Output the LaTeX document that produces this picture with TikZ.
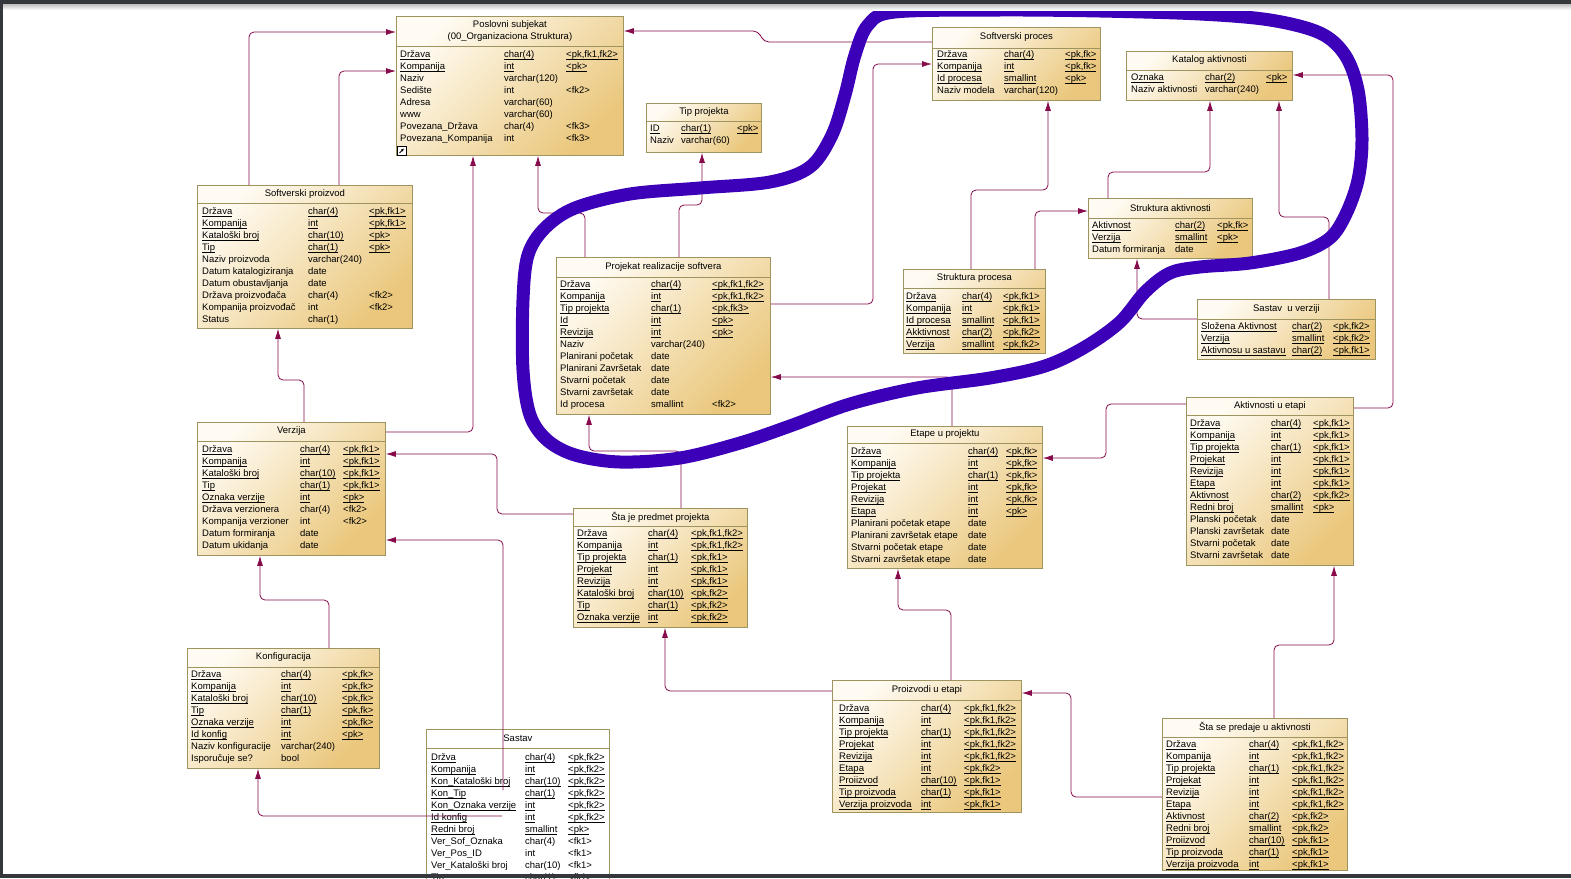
\documentclass[tikz,border=0pt]{standalone}
\usepackage{fontspec}
\setmainfont{Liberation Sans}
\usepackage{array}
\usetikzlibrary{positioning, arrows.meta}

\definecolor{entlight}{RGB}{255,251,242}
\definecolor{entdark}{RGB}{234,199,124}
\definecolor{entedge}{RGB}{158,148,96}
\definecolor{fkred}{RGB}{135,10,75}
\definecolor{blobblue}{RGB}{60,0,185}
\definecolor{framegray}{RGB}{52,56,60}

\newcommand{\entfont}{\fontsize{9.5}{12}\selectfont}
\newcommand{\ulx}[1]{\setbox0=\hbox{#1}\rlap{\rule[-1.7pt]{\wd0}{0.6pt}}\box0}
\newcommand{\pkr}[3]{\ulx{#1} & \ulx{#2} & \ulx{#3}\\}
\newcommand{\atr}[3]{#1 & #2 & #3\\}

\tikzset{
  entity/.style={draw=entedge, line width=0.8pt, anchor=north west, inner sep=0pt,
    top color=entlight, bottom color=entdark, shading angle=45},
  entplain/.style={draw=entedge, line width=0.8pt, anchor=north west, inner sep=0pt, fill=white},
  enttitle/.style={font=\entfont, inner sep=0pt, align=center},
  entbody/.style={font=\entfont, inner sep=0pt, anchor=north west},
  sepline/.style={draw=entedge, line width=0.8pt},
  fk/.style={draw=fkred, line width=0.8pt, rounded corners=5pt, -{Latex[length=10pt,width=6pt]}},
  blob/.style={draw=blobblue, line width=13pt, line join=round},
}

\begin{document}
\begin{tikzpicture}[x=1pt, y=-1pt]
  \clip (0,0) rectangle (1571,878);
  \fill[white] (0,0) rectangle (1571,878);

  % Poslovni subjekat
  \node[entity, minimum width=227, minimum height=139] (posl) at (396,16) {};
  \draw[sepline] ([yshift=-30]posl.north west) -- ([yshift=-30]posl.north east);
  \node[enttitle] at ([yshift=-15]posl.north) {Poslovni subjekat\\(00\_Organizaciona Struktura)};
  \node[entbody] at ([xshift=4,yshift=-33]posl.north west) {\begin{tabular}{@{}w{l}{104pt}@{}w{l}{62pt}@{}l@{}}
    \pkr{Država}{char(4)}{<pk,fk1,fk2>}
    \pkr{Kompanija}{int}{<pk>}
    \atr{Naziv}{varchar(120)}{}
    \atr{Sedište}{int}{<fk2>}
    \atr{Adresa}{varchar(60)}{}
    \atr{www}{varchar(60)}{}
    \atr{Povezana\_Država}{char(4)}{<fk3>}
    \atr{Povezana\_Kompanija}{int}{<fk3>}
  \end{tabular}};
  \draw[fill=white, line width=0.6pt] (397,146) rectangle (406,155);
  \draw[line width=0.9pt, -{Latex[length=3pt,width=3pt]}] (399.5,153) -- (404,148.5);

  % Softverski proizvod
  \node[entity, minimum width=215, minimum height=143] (sproiz) at (197,185) {};
  \draw[sepline] ([yshift=-18]sproiz.north west) -- ([yshift=-18]sproiz.north east);
  \node[enttitle] at ([yshift=-9]sproiz.north) {Softverski proizvod};
  \node[entbody] at ([xshift=5,yshift=-21]sproiz.north west) {\begin{tabular}{@{}w{l}{106pt}@{}w{l}{61pt}@{}l@{}}
    \pkr{Država}{char(4)}{<pk,fk1>}
    \pkr{Kompanija}{int}{<pk,fk1>}
    \pkr{Kataloški broj}{char(10)}{<pk>}
    \pkr{Tip}{char(1)}{<pk>}
    \atr{Naziv proizvoda}{varchar(240)}{}
    \atr{Datum katalogiziranja}{date}{}
    \atr{Datum obustavljanja}{date}{}
    \atr{Država proizvođača}{char(4)}{<fk2>}
    \atr{Kompanija proizvođač}{int}{<fk2>}
    \atr{Status}{char(1)}{}
  \end{tabular}};

  % Tip projekta
  \node[entity, minimum width=115, minimum height=49] (tipp) at (646,103) {};
  \draw[sepline] ([yshift=-18]tipp.north west) -- ([yshift=-18]tipp.north east);
  \node[enttitle] at ([yshift=-9]tipp.north) {Tip projekta};
  \node[entbody] at ([xshift=4,yshift=-20]tipp.north west) {\begin{tabular}{@{}w{l}{31pt}@{}w{l}{56pt}@{}l@{}}
    \pkr{ID}{char(1)}{<pk>}
    \atr{Naziv}{varchar(60)}{}
  \end{tabular}};

  % Softverski proces
  \node[entity, minimum width=168, minimum height=73] (sproc) at (932,27) {};
  \draw[sepline] ([yshift=-21]sproc.north west) -- ([yshift=-21]sproc.north east);
  \node[enttitle] at ([yshift=-10.5]sproc.north) {Softverski proces};
  \node[entbody] at ([xshift=5,yshift=-22]sproc.north west) {\begin{tabular}{@{}w{l}{67pt}@{}w{l}{61pt}@{}l@{}}
    \pkr{Država}{char(4)}{<pk,fk>}
    \pkr{Kompanija}{int}{<pk,fk>}
    \pkr{Id procesa}{smallint}{<pk>}
    \atr{Naziv modela}{varchar(120)}{}
  \end{tabular}};

  % Katalog aktivnosti
  \node[entity, minimum width=166, minimum height=49] (kat) at (1126,51) {};
  \draw[sepline] ([yshift=-19]kat.north west) -- ([yshift=-19]kat.north east);
  \node[enttitle] at ([yshift=-9.5]kat.north) {Katalog aktivnosti};
  \node[entbody] at ([xshift=5,yshift=-21]kat.north west) {\begin{tabular}{@{}w{l}{74pt}@{}w{l}{61pt}@{}l@{}}
    \pkr{Oznaka}{char(2)}{<pk>}
    \atr{Naziv aktivnosti}{varchar(240)}{}
  \end{tabular}};

  % Projekat realizacije softvera
  \node[entity, minimum width=214, minimum height=157] (proj) at (556,257) {};
  \draw[sepline] ([yshift=-20]proj.north west) -- ([yshift=-20]proj.north east);
  \node[enttitle] at ([yshift=-10]proj.north) {Projekat realizacije softvera};
  \node[entbody] at ([xshift=4,yshift=-22]proj.north west) {\begin{tabular}{@{}w{l}{91pt}@{}w{l}{61pt}@{}l@{}}
    \pkr{Država}{char(4)}{<pk,fk1,fk2>}
    \pkr{Kompanija}{int}{<pk,fk1,fk2>}
    \pkr{Tip projekta}{char(1)}{<pk,fk3>}
    \pkr{Id}{int}{<pk>}
    \pkr{Revizija}{int}{<pk>}
    \atr{Naziv}{varchar(240)}{}
    \atr{Planirani početak}{date}{}
    \atr{Planirani Završetak}{date}{}
    \atr{Stvarni početak}{date}{}
    \atr{Stvarni završetak}{date}{}
    \atr{Id procesa}{smallint}{<fk2>}
  \end{tabular}};

  % Struktura procesa
  \node[entity, minimum width=142, minimum height=84] (strp) at (903,269) {};
  \draw[sepline] ([yshift=-19]strp.north west) -- ([yshift=-19]strp.north east);
  \node[enttitle] at ([yshift=-9.5]strp.north) {Struktura procesa};
  \node[entbody] at ([xshift=3,yshift=-22]strp.north west) {\begin{tabular}{@{}w{l}{56pt}@{}w{l}{41pt}@{}l@{}}
    \pkr{Država}{char(4)}{<pk,fk1>}
    \pkr{Kompanija}{int}{<pk,fk1>}
    \pkr{Id procesa}{smallint}{<pk,fk1>}
    \pkr{Akktivnost}{char(2)}{<pk,fk2>}
    \pkr{Verzija}{smallint}{<pk,fk2>}
  \end{tabular}};

  % Struktura aktivnosti
  \node[entity, minimum width=164, minimum height=60] (stra) at (1088,198) {};
  \draw[sepline] ([yshift=-20]stra.north west) -- ([yshift=-20]stra.north east);
  \node[enttitle] at ([yshift=-10]stra.north) {Struktura aktivnosti};
  \node[entbody] at ([xshift=4,yshift=-22]stra.north west) {\begin{tabular}{@{}w{l}{83pt}@{}w{l}{42pt}@{}l@{}}
    \pkr{Aktivnost}{char(2)}{<pk,fk>}
    \pkr{Verzija}{smallint}{<pk>}
    \atr{Datum formiranja}{date}{}
  \end{tabular}};

  % Sastav u verziji
  \node[entity, minimum width=178, minimum height=60] (sastv) at (1197,299) {};
  \draw[sepline] ([yshift=-20]sastv.north west) -- ([yshift=-20]sastv.north east);
  \node[enttitle] at ([yshift=-10]sastv.north) {Sastav\ \ u verziji};
  \node[entbody] at ([xshift=4,yshift=-22]sastv.north west) {\begin{tabular}{@{}w{l}{91pt}@{}w{l}{41pt}@{}l@{}}
    \pkr{Složena Aktivnost}{char(2)}{<pk,fk2>}
    \pkr{Verzija}{smallint}{<pk,fk2>}
    \pkr{Aktivnosu u sastavu}{char(2)}{<pk,fk1>}
  \end{tabular}};

  % Verzija
  \node[entity, minimum width=188, minimum height=133] (verz) at (197,422) {};
  \draw[sepline] ([yshift=-19]verz.north west) -- ([yshift=-19]verz.north east);
  \node[enttitle] at ([yshift=-9.5]verz.north) {Verzija};
  \node[entbody] at ([xshift=5,yshift=-22]verz.north west) {\begin{tabular}{@{}w{l}{98pt}@{}w{l}{43pt}@{}l@{}}
    \pkr{Država}{char(4)}{<pk,fk1>}
    \pkr{Kompanija}{int}{<pk,fk1>}
    \pkr{Kataloški broj}{char(10)}{<pk,fk1>}
    \pkr{Tip}{char(1)}{<pk,fk1>}
    \pkr{Oznaka verzije}{int}{<pk>}
    \atr{Država verzionera}{char(4)}{<fk2>}
    \atr{Kompanija verzioner}{int}{<fk2>}
    \atr{Datum formiranja}{date}{}
    \atr{Datum ukidanja}{date}{}
  \end{tabular}};

  % Sta je predmet projekta
  \node[entity, minimum width=174, minimum height=119] (sjp) at (573,508) {};
  \draw[sepline] ([yshift=-18]sjp.north west) -- ([yshift=-18]sjp.north east);
  \node[enttitle] at ([yshift=-9]sjp.north) {Šta je predmet projekta};
  \node[entbody] at ([xshift=4,yshift=-20]sjp.north west) {\begin{tabular}{@{}w{l}{71pt}@{}w{l}{43pt}@{}l@{}}
    \pkr{Država}{char(4)}{<pk,fk1,fk2>}
    \pkr{Kompanija}{int}{<pk,fk1,fk2>}
    \pkr{Tip projekta}{char(1)}{<pk,fk1>}
    \pkr{Projekat}{int}{<pk,fk1>}
    \pkr{Revizija}{int}{<pk,fk1>}
    \pkr{Kataloški broj}{char(10)}{<pk,fk2>}
    \pkr{Tip}{char(1)}{<pk,fk2>}
    \pkr{Oznaka verzije}{int}{<pk,fk2>}
  \end{tabular}};

  % Etape u projektu
  \node[entity, minimum width=195, minimum height=142] (etape) at (847,426) {};
  \draw[sepline] ([yshift=-17]etape.north west) -- ([yshift=-17]etape.north east);
  \node[enttitle] at ([yshift=-8.5]etape.north) {Etape u projektu};
  \node[entbody] at ([xshift=4,yshift=-20]etape.north west) {\begin{tabular}{@{}w{l}{117pt}@{}w{l}{38pt}@{}l@{}}
    \pkr{Država}{char(4)}{<pk,fk>}
    \pkr{Kompanija}{int}{<pk,fk>}
    \pkr{Tip projekta}{char(1)}{<pk,fk>}
    \pkr{Projekat}{int}{<pk,fk>}
    \pkr{Revizija}{int}{<pk,fk>}
    \pkr{Etapa}{int}{<pk>}
    \atr{Planirani početak etape}{date}{}
    \atr{Planirani završetak etape}{date}{}
    \atr{Stvarni početak etape}{date}{}
    \atr{Stvarni završetak etape}{date}{}
  \end{tabular}};

  % Aktivnosti u etapi
  \node[entity, minimum width=167, minimum height=168] (akt) at (1186,397) {};
  \draw[sepline] ([yshift=-18]akt.north west) -- ([yshift=-18]akt.north east);
  \node[enttitle] at ([yshift=-9]akt.north) {Aktivnosti u etapi};
  \node[entbody] at ([xshift=4,yshift=-21]akt.north west) {\begin{tabular}{@{}w{l}{81pt}@{}w{l}{42pt}@{}l@{}}
    \pkr{Država}{char(4)}{<pk,fk1>}
    \pkr{Kompanija}{int}{<pk,fk1>}
    \pkr{Tip projekta}{char(1)}{<pk,fk1>}
    \pkr{Projekat}{int}{<pk,fk1>}
    \pkr{Revizija}{int}{<pk,fk1>}
    \pkr{Etapa}{int}{<pk,fk1>}
    \pkr{Aktivnost}{char(2)}{<pk,fk2>}
    \pkr{Redni broj}{smallint}{<pk>}
    \atr{Planski početak}{date}{}
    \atr{Planski završetak}{date}{}
    \atr{Stvarni početak}{date}{}
    \atr{Stvarni završetak}{date}{}
  \end{tabular}};

  % Konfiguracija
  \node[entity, minimum width=192, minimum height=120] (konf) at (187,648) {};
  \draw[sepline] ([yshift=-19]konf.north west) -- ([yshift=-19]konf.north east);
  \node[enttitle] at ([yshift=-9.5]konf.north) {Konfiguracija};
  \node[entbody] at ([xshift=4,yshift=-21]konf.north west) {\begin{tabular}{@{}w{l}{90pt}@{}w{l}{61pt}@{}l@{}}
    \pkr{Država}{char(4)}{<pk,fk>}
    \pkr{Kompanija}{int}{<pk,fk>}
    \pkr{Kataloški broj}{char(10)}{<pk,fk>}
    \pkr{Tip}{char(1)}{<pk,fk>}
    \pkr{Oznaka verzije}{int}{<pk,fk>}
    \pkr{Id konfig}{int}{<pk>}
    \atr{Naziv konfiguracije}{varchar(240)}{}
    \atr{Isporučuje se?}{bool}{}
  \end{tabular}};

  % Sastav
  \node[entplain, minimum width=183, minimum height=160] (sast) at (426,729) {};
  \draw[sepline] ([yshift=-19]sast.north west) -- ([yshift=-19]sast.north east);
  \node[enttitle] at ([yshift=-9.5]sast.north) {Sastav};
  \node[entbody] at ([xshift=5,yshift=-23]sast.north west) {\begin{tabular}{@{}w{l}{94pt}@{}w{l}{43pt}@{}l@{}}
    \pkr{Držva}{char(4)}{<pk,fk2>}
    \pkr{Kompanija}{int}{<pk,fk2>}
    \pkr{Kon\_Kataloški broj}{char(10)}{<pk,fk2>}
    \pkr{Kon\_Tip}{char(1)}{<pk,fk2>}
    \pkr{Kon\_Oznaka verzije}{int}{<pk,fk2>}
    \pkr{Id konfig}{int}{<pk,fk2>}
    \pkr{Redni broj}{smallint}{<pk>}
    \atr{Ver\_Sof\_Oznaka}{char(4)}{<fk1>}
    \atr{Ver\_Pos\_ID}{int}{<fk1>}
    \atr{Ver\_Kataloški broj}{char(10)}{<fk1>}
    \atr{Tip}{char(1)}{<fk1>}
  \end{tabular}};

  % Proizvodi u etapi
  \node[entity, minimum width=189, minimum height=132] (proizv) at (832,680) {};
  \draw[sepline] ([yshift=-20]proizv.north west) -- ([yshift=-20]proizv.north east);
  \node[enttitle] at ([yshift=-10]proizv.north) {Proizvodi u etapi};
  \node[entbody] at ([xshift=7,yshift=-23]proizv.north west) {\begin{tabular}{@{}w{l}{82pt}@{}w{l}{43pt}@{}l@{}}
    \pkr{Država}{char(4)}{<pk,fk1,fk2>}
    \pkr{Kompanija}{int}{<pk,fk1,fk2>}
    \pkr{Tip projekta}{char(1)}{<pk,fk1,fk2>}
    \pkr{Projekat}{int}{<pk,fk1,fk2>}
    \pkr{Revizija}{int}{<pk,fk1,fk2>}
    \pkr{Etapa}{int}{<pk,fk2>}
    \pkr{Proiizvod}{char(10)}{<pk,fk1>}
    \pkr{Tip proizvoda}{char(1)}{<pk,fk1>}
    \pkr{Verzija proizvoda}{int}{<pk,fk1>}
  \end{tabular}};

  % Sta se predaje u aktivnosti
  \node[entity, minimum width=185, minimum height=152] (ssp) at (1162,718) {};
  \draw[sepline] ([yshift=-19]ssp.north west) -- ([yshift=-19]ssp.north east);
  \node[enttitle] at ([yshift=-9.5]ssp.north) {Šta se predaje u aktivnosti};
  \node[entbody] at ([xshift=4,yshift=-21]ssp.north west) {\begin{tabular}{@{}w{l}{83pt}@{}w{l}{43pt}@{}l@{}}
    \pkr{Država}{char(4)}{<pk,fk1,fk2>}
    \pkr{Kompanija}{int}{<pk,fk1,fk2>}
    \pkr{Tip projekta}{char(1)}{<pk,fk1,fk2>}
    \pkr{Projekat}{int}{<pk,fk1,fk2>}
    \pkr{Revizija}{int}{<pk,fk1,fk2>}
    \pkr{Etapa}{int}{<pk,fk1,fk2>}
    \pkr{Aktivnost}{char(2)}{<pk,fk2>}
    \pkr{Redni broj}{smallint}{<pk,fk2>}
    \pkr{Proiizvod}{char(10)}{<pk,fk1>}
    \pkr{Tip proizvoda}{char(1)}{<pk,fk1>}
    \pkr{Verzija proizvoda}{int}{<pk,fk1>}
  \end{tabular}};

  % references
  \draw[fk] ([xshift=52]sproiz.north west) |- ([yshift=-16]posl.north west);
  \draw[fk] ([xshift=142]sproiz.north west) |- ([yshift=-55]posl.north west);
  \draw[fk] ([yshift=-15]sproc.north west) -- (764,42) -- (758,31) -- ([yshift=-15]posl.north east);
  \draw[fk] ([yshift=-10]verz.north east) -| ([xshift=77]posl.south west);
  \draw[fk] ([xshift=29]proj.north west) |- (560,213) -| ([xshift=142]posl.south west);
  \draw[fk] ([xshift=123]proj.north west) |- (690,205) -| ([xshift=56]tipp.south west);
  \draw[fk] ([yshift=-47]proj.north east) -| (873,150) |- ([yshift=-37]sproc.north west);
  \draw[fk] ([xshift=105]etape.north west) |- ([yshift=-120]proj.north east);
  \draw[fk] ([xshift=68]strp.north west) |- (1000,190) -| ([xshift=116]sproc.south west);
  \draw[fk] ([xshift=132]strp.north west) |- ([yshift=-13]stra.north west);
  \draw[fk] ([xshift=20]stra.north west) |- (1150,172) -| ([xshift=84]kat.south west);
  \draw[fk] ([xshift=132]sastv.north west) |- (1300,217) -| ([xshift=153]kat.south west);
  \draw[fk] ([yshift=-20]sastv.north west) -| ([xshift=49]stra.south west);
  \draw[fk] ([yshift=-11]akt.north east) -| (1393,200) |- ([yshift=-24]kat.north east);
  \draw[fk] ([yshift=-7]akt.north west) -| (1106,430) |- ([yshift=-32]etape.north east);
  \draw[fk] ([xshift=112]ssp.north west) |- (1300,645) -| ([xshift=148]akt.south west);
  \draw[fk] ([yshift=-79]ssp.north west) -| (1071,750) |- ([yshift=-13]proizv.north east);
  \draw[fk] ([yshift=-11]proizv.north west) -| ([xshift=92]sjp.south west);
  \draw[fk] ([xshift=119]proizv.north west) |- (920,610) -| ([xshift=51]etape.south west);
  \draw[fk] ([xshift=108]sjp.north west) |- (620,451) -| ([xshift=33]proj.south west);
  \draw[fk] ([yshift=-6]sjp.north west) -| (497,480) |- ([yshift=-32]verz.north east);
  \draw[fk] ([xshift=107]verz.north west) |- (290,380) -| ([xshift=81]sproiz.south west);
  \draw[fk] ([xshift=142]konf.north west) |- (300,600) -| ([xshift=63]verz.south west);
  \draw[fk] ([xshift=77,yshift=-61]sast.north west) |- ([yshift=-118]verz.north east);
  \draw[fk] ([xshift=76,yshift=-87]sast.north west) -| ([xshift=71]konf.south west);

  % hand-drawn loop
  \draw[blob] plot[smooth cycle, tension=0.55] coordinates {
    (895,12) (1000,10) (1100,11) (1200,14) (1270,20) (1320,33) (1345,55) (1358,90)
    (1362,140) (1358,180) (1346,214) (1330,238) (1300,253) (1250,263) (1200,267)
    (1170,273) (1145,292) (1120,322) (1085,347) (1045,366) (990,378) (917,388)
    (850,404) (790,426) (740,443) (680,458) (620,462) (575,455) (547,440) (530,415)
    (523,370) (523,300) (528,255) (545,228) (575,208) (630,194) (700,188) (770,182)
    (810,167) (832,135) (845,95) (855,55) (868,25)};

  % window frame
  \shade[top color=black!25, bottom color=white] (3,4) rectangle (1571,10);
  \fill[framegray] (0,0) rectangle (1571,4);
  \fill[framegray] (0,0) rectangle (3,878);
  \fill[framegray] (0,874) rectangle (1571,878);
\end{tikzpicture}
\end{document}
